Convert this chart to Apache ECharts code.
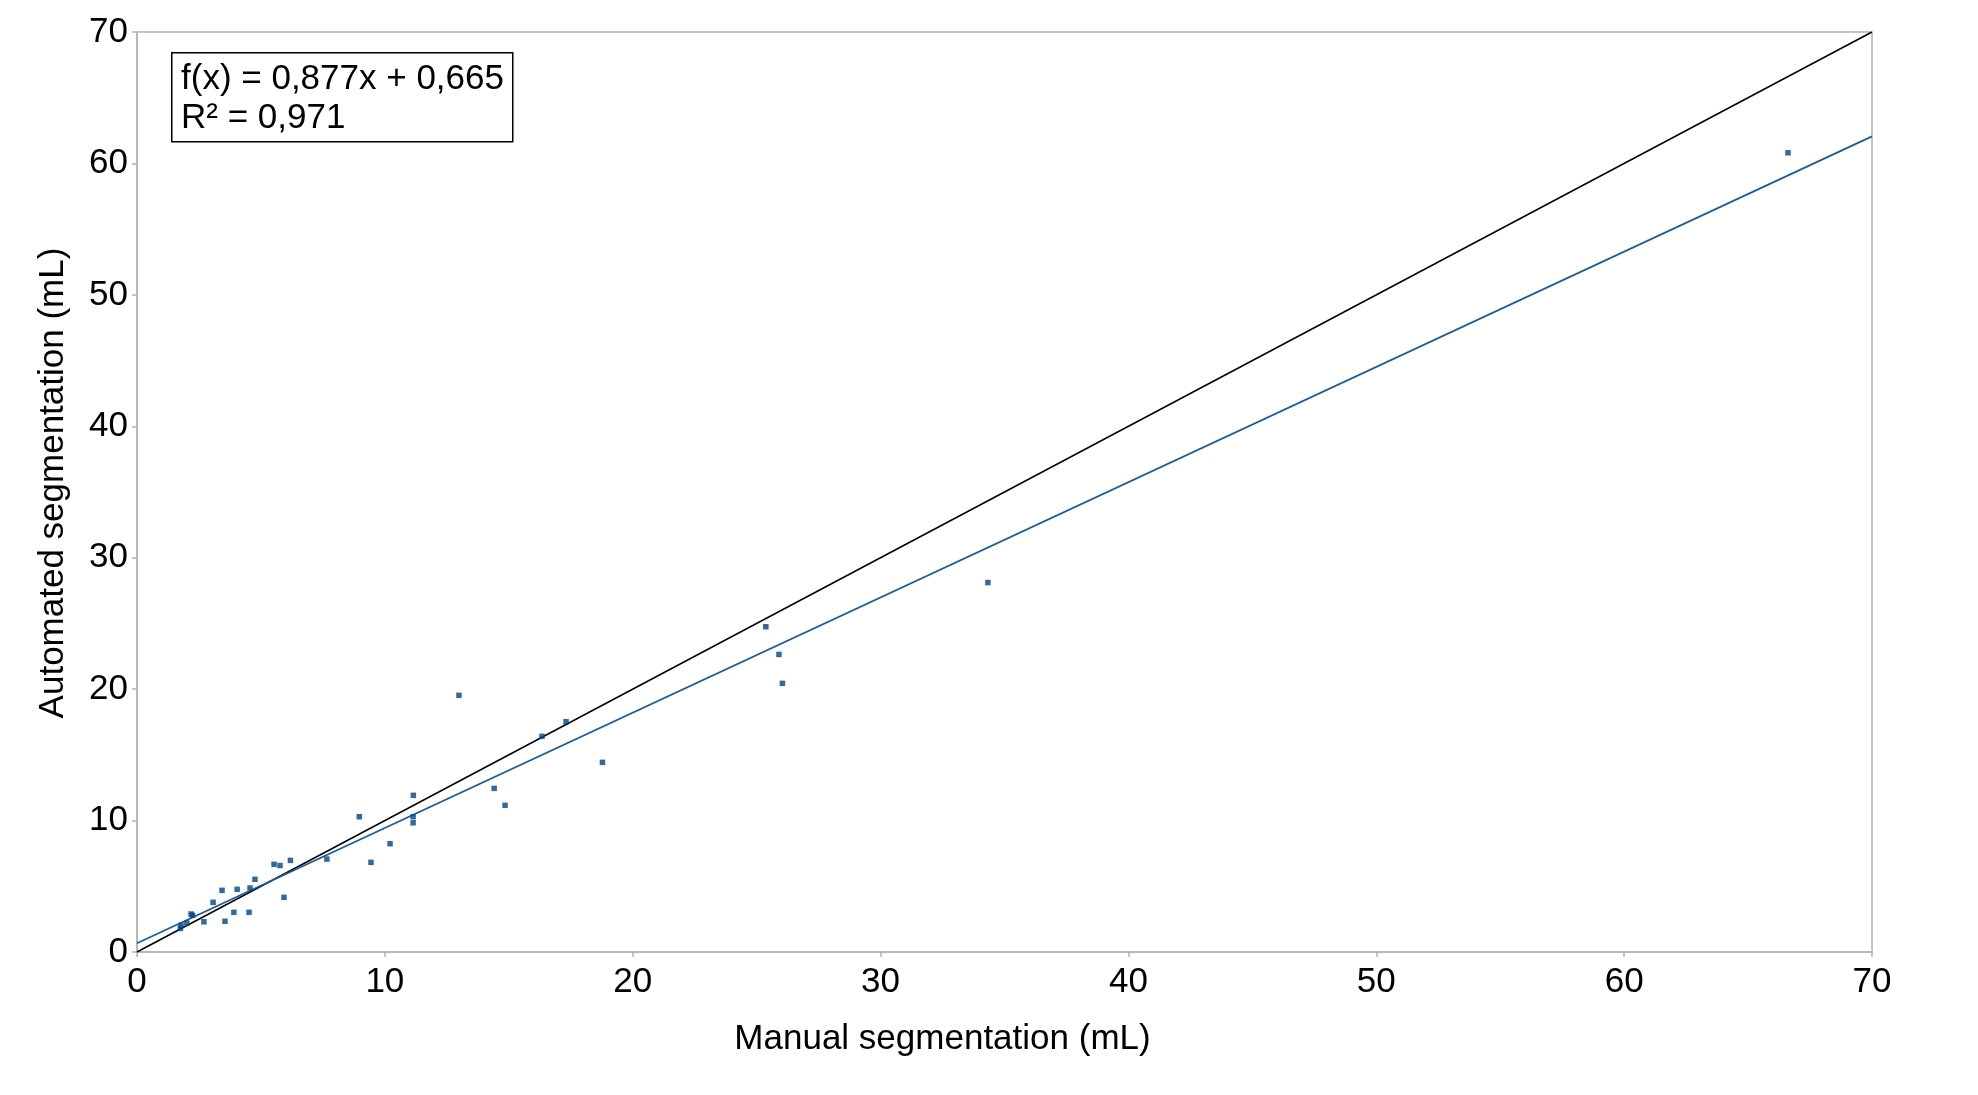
<!DOCTYPE html>
<html>
<head>
<meta charset="utf-8">
<script src="https://cdn.jsdelivr.net/npm/echarts@6/dist/echarts.min.js"></script>
<style>
html,body{margin:0;padding:0;background:#fff;}
#c{width:1978px;height:1095px;}
</style>
</head>
<body>
<div id="c"></div>
<script>
// Manual segmentation (mL) values
const manualValues = [66.61, 34.33, 25.37, 25.90, 26.04, 18.78, 17.31, 16.34, 12.99, 14.41, 14.85, 11.15, 11.14, 11.14, 8.97, 10.21, 9.44, 7.66, 6.19, 5.77, 5.53, 5.93, 4.76, 4.56, 4.52, 4.04, 3.43, 3.91, 3.55, 3.07, 2.70, 2.18, 2.24, 2.01, 1.78, 1.75];
// Automated segmentation (mL) values
const automatedValues = [60.81, 28.11, 24.75, 22.64, 20.44, 14.43, 17.52, 16.41, 19.53, 12.45, 11.16, 11.92, 10.29, 9.83, 10.29, 8.24, 6.82, 7.07, 6.97, 6.58, 6.67, 4.16, 5.53, 4.87, 3.02, 4.77, 4.69, 3.02, 2.34, 3.78, 2.30, 2.89, 2.79, 2.21, 2.03, 1.80];
// Regression (as printed in the chart)
const slope = 0.877;
const intercept = 0.665;
const rSquared = 0.971;
const axisTicks = [0, 10, 20, 30, 40, 50, 60, 70];
const xTitle = 'Manual segmentation (mL)';
const yTitle = 'Automated segmentation (mL)';

const fmt = v => String(v).replace('.', ',');
const points = manualValues.map((x, i) => [x, automatedValues[i]]);
const xMin = axisTicks[0], xMax = axisTicks[axisTicks.length - 1];
const trend = [[xMin, slope * xMin + intercept], [xMax, slope * xMax + intercept]];
const identity = [[xMin, xMin], [xMax, xMax]];

const FONT = '"Liberation Sans", Arial, sans-serif';
const chart = echarts.init(document.getElementById('c'));
const axisCommon = {
  type: 'value', min: xMin, max: xMax, interval: 10,
  axisLine: { show: true, lineStyle: { color: '#b3b3b3', width: 1.5 } },
  axisTick: { show: true, length: 5, lineStyle: { color: '#b3b3b3', width: 1.5 } },
  splitLine: { show: false },
  nameLocation: 'middle'
};
chart.setOption({
  animation: false,
  backgroundColor: '#fff',
  grid: { left: 137, right: 106, top: 32, bottom: 143, show: true, borderColor: '#b3b3b3', borderWidth: 1.5 },
  xAxis: Object.assign({}, axisCommon, {
    name: xTitle, nameGap: 70,
    nameTextStyle: { fontFamily: FONT, fontSize: 35, color: '#000', padding: [0, 124, 0, 0] },
    axisLabel: { fontFamily: FONT, fontSize: 35, color: '#000', margin: 13 }
  }),
  yAxis: Object.assign({}, axisCommon, {
    name: yTitle, nameGap: 66,
    nameTextStyle: { fontFamily: FONT, fontSize: 35, color: '#000', padding: [0, 0, 0, 18] },
    axisLabel: { fontFamily: FONT, fontSize: 35, color: '#000', margin: 9 }
  }),
  series: [
    { type: 'line', data: identity, showSymbol: false, symbol: 'none', silent: true,
      lineStyle: { color: '#000', width: 1.5 }, z: 2 },
    { type: 'line', data: trend, showSymbol: false, symbol: 'none', silent: true,
      lineStyle: { color: '#1d5d9b', width: 1.8 }, z: 2 },
    { type: 'scatter', data: points, symbol: 'rect', symbolSize: 5.5,
      itemStyle: { color: '#004586' }, z: 5 }
  ],
  graphic: [
    { type: 'rect', left: 171, top: 52, z: 10,
      shape: { width: 341, height: 89 },
      style: { fill: '#fff', stroke: '#000', lineWidth: 1.5 } },
    { type: 'text', left: 181, top: 62, z: 11,
      style: { text: 'f(x) = ' + fmt(slope) + 'x + ' + fmt(intercept), font: '35px ' + FONT, fill: '#000' } },
    { type: 'text', left: 181, top: 101, z: 11,
      style: { text: 'R² = ' + fmt(rSquared), font: '35px ' + FONT, fill: '#000' } }
  ]
});
</script>
</body>
</html>
